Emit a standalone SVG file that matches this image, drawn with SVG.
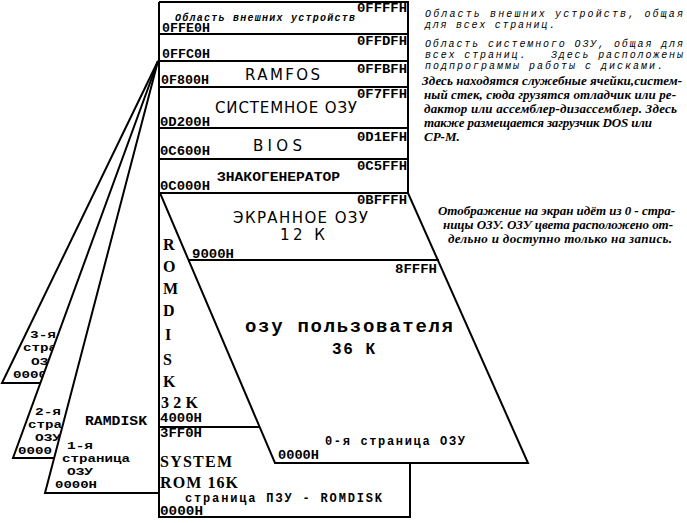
<svg xmlns="http://www.w3.org/2000/svg" width="687" height="523" viewBox="0 0 687 523">
<style>
.ln{fill:none;stroke:#000;stroke-width:2}
.wf{fill:#fff;stroke:none}
.a{font-family:"Liberation Mono",monospace;font-weight:bold;font-size:12px;fill:#000}
.s{font-family:"Liberation Mono",monospace;font-weight:bold;font-size:12px;fill:#000}
.p{font-family:"Liberation Mono",monospace;font-weight:bold;font-size:11px;fill:#000}
.t{font-family:"DejaVu Sans",sans-serif;font-size:15px;fill:#000}
.m{font-family:"Liberation Mono",monospace;font-weight:bold;font-size:16px;fill:#000}
.b{font-family:"Liberation Serif",serif;font-weight:bold;font-size:16px;fill:#000}
.u{font-family:"Liberation Mono",monospace;font-weight:bold;font-size:19px;fill:#000}
.it{font-family:"Liberation Mono",monospace;font-style:italic;font-size:10px;fill:#000;white-space:pre}
.bi{font-family:"Liberation Serif",serif;font-style:italic;font-weight:bold;font-size:13px;fill:#000}
</style>
<rect width="687" height="523" fill="#fff"/>

<g id="page3">
<polygon class="wf" points="158,61 2,383 158,383"/>
<path class="ln" d="M158,61 L2,383 L42,383"/>
<text class="p" x="30" y="338" textLength="26" lengthAdjust="spacingAndGlyphs">3-я</text>
<text class="p" x="23" y="351" textLength="34" lengthAdjust="spacingAndGlyphs">стра</text>
<text class="p" x="31" y="365" textLength="26" lengthAdjust="spacingAndGlyphs">ОЗУ</text>
<text class="p" x="13" y="378" textLength="34" lengthAdjust="spacingAndGlyphs">0000</text>
</g>

<g id="page2">
<polygon class="wf" points="158,61 13,458 158,458"/>
<path class="ln" d="M158,61 L13,458 L54,458"/>
<text class="p" x="35" y="415" textLength="26" lengthAdjust="spacingAndGlyphs">2-я</text>
<text class="p" x="28" y="428" textLength="34" lengthAdjust="spacingAndGlyphs">стра</text>
<text class="p" x="35" y="441" textLength="26" lengthAdjust="spacingAndGlyphs">ОЗУ</text>
<text class="p" x="18" y="454" textLength="34" lengthAdjust="spacingAndGlyphs">0000</text>
</g>

<g id="page1">
<polygon class="wf" points="158,61 45,493 158,493"/>
<path class="ln" d="M158,61 L45,493 L158,493"/>
<text class="s" x="85" y="425" textLength="62" lengthAdjust="spacingAndGlyphs">RAMDISK</text>
<text class="p" x="67" y="449" textLength="26" lengthAdjust="spacingAndGlyphs">1-я</text>
<text class="p" x="62" y="462" textLength="68" lengthAdjust="spacingAndGlyphs">страница</text>
<text class="p" x="67" y="475" textLength="26" lengthAdjust="spacingAndGlyphs">ОЗУ</text>
<text class="p" x="55" y="488" textLength="42" lengthAdjust="spacingAndGlyphs">0000H</text>
</g>

<g id="column">
<rect class="wf" x="159" y="2" width="249" height="515"/>
<path class="ln" d="M159,2 H408 V193 M159,2 V517 H410 V463 M159,34 H408 M159,61 H408 M159,87 H408 M159,128 H408 M159,159 H408 M159,193 H408"/>
</g>

<g id="ext-devices">
<text class="a" x="357" y="12" textLength="50" lengthAdjust="spacingAndGlyphs">0FFFFH</text>
<text class="it" x="175" y="21" textLength="180" font-weight="bold">Область внешних устройств</text>
<text class="a" x="162" y="32" textLength="48" lengthAdjust="spacingAndGlyphs">0FFE0H</text>
</g>

<g id="sys-ram-top">
<text class="a" x="357" y="45" textLength="50" lengthAdjust="spacingAndGlyphs">0FFDFH</text>
<text class="a" x="162" y="58" textLength="48" lengthAdjust="spacingAndGlyphs">0FFC0H</text>
</g>

<g id="ramfos">
<text class="a" x="357" y="73" textLength="50" lengthAdjust="spacingAndGlyphs">0FFBFH</text>
<text class="t" x="245" y="80" textLength="75">RAMFOS</text>
<text class="a" x="161" y="84" textLength="48" lengthAdjust="spacingAndGlyphs">0F800H</text>
</g>

<g id="system-ram">
<text class="a" x="357" y="98" textLength="50" lengthAdjust="spacingAndGlyphs">0F7FFH</text>
<text class="t" x="215" y="113" textLength="142">СИСТЕМНОЕ ОЗУ</text>
<text class="a" x="160" y="126" textLength="50" lengthAdjust="spacingAndGlyphs">0D200H</text>
</g>

<g id="bios">
<text class="a" x="357" y="141" textLength="50" lengthAdjust="spacingAndGlyphs">0D1EFH</text>
<text class="t" x="253" y="151" textLength="49">BIOS</text>
<text class="a" x="160" y="155" textLength="50" lengthAdjust="spacingAndGlyphs">0C600H</text>
</g>

<g id="chargen">
<text class="a" x="357" y="170" textLength="50" lengthAdjust="spacingAndGlyphs">0C5FFH</text>
<text class="s" x="217" y="181" textLength="123" lengthAdjust="spacingAndGlyphs">ЗНАКОГЕНЕРАТОР</text>
<text class="a" x="160" y="190" textLength="50" lengthAdjust="spacingAndGlyphs">0C000H</text>
</g>

<g id="page0">
<polygon points="160,193 408,193 528,463 275,463" fill="#fff" stroke="#000" stroke-width="2"/>
<path class="ln" d="M188,260 H439"/>
<text class="a" x="357" y="204" textLength="50" lengthAdjust="spacingAndGlyphs">0BFFFH</text>
<text class="t" x="233" y="223" textLength="135">ЭКРАННОЕ ОЗУ</text>
<text class="t" x="280" y="240" textLength="45">12 К</text>
<text class="a" x="192" y="258" textLength="42" lengthAdjust="spacingAndGlyphs">9000H</text>
<text class="a" x="395" y="273" textLength="42" lengthAdjust="spacingAndGlyphs">8FFFH</text>
<text class="u" x="245" y="332" textLength="208">озу пользователя</text>
<text class="m" x="332" y="354" textLength="43">36 К</text>
<text class="s" x="325" y="445" textLength="140">0-я страница ОЗУ</text>
<text class="a" x="278" y="459" textLength="41" lengthAdjust="spacingAndGlyphs">0000H</text>
</g>

<g id="romdisk">
<text class="b" x="163" y="250">R</text>
<text class="b" x="163" y="272">O</text>
<text class="b" x="163" y="294">M</text>
<text class="b" x="163" y="316">D</text>
<text class="b" x="165" y="340">I</text>
<text class="b" x="163" y="365">S</text>
<text class="b" x="163" y="387">K</text>
<text class="b" x="161" y="408" textLength="37">32K</text>
<text class="a" x="160" y="422" textLength="42" lengthAdjust="spacingAndGlyphs">4000H</text>
</g>

<g id="system-rom">
<path class="ln" d="M159,427 H260"/>
<text class="a" x="160" y="437" textLength="42" lengthAdjust="spacingAndGlyphs">3FF0H</text>
<text class="b" x="160" y="467" textLength="72">SYSTEM</text>
<text class="b" x="160" y="488" textLength="78">ROM 16K</text>
<text class="s" x="185" y="502" textLength="197">страница ПЗУ - ROMDISK</text>
<text class="a" x="160" y="515" textLength="43" lengthAdjust="spacingAndGlyphs">0000H</text>
</g>

<g id="notes">
<text class="it" x="425" y="17" textLength="258">Область внешних устройств, общая</text>
<text class="it" x="425" y="28" textLength="130">для всех страниц.</text>
<text class="it" x="425" y="47" textLength="258">Область системного ОЗУ, общая для</text>
<text class="it" x="425" y="58" textLength="258">всех страниц.   Здесь расположены</text>
<text class="it" x="425" y="69" textLength="238">подпрограммы работы с дисками.</text>
<text class="bi" x="422" y="85" textLength="260">Здесь находятся служебные ячейки,систем-</text>
<text class="bi" x="424" y="99" textLength="252">ный стек, сюда грузятся отладчик или ре-</text>
<text class="bi" x="424" y="113" textLength="253">дактор или ассемблер-дизассемблер. Здесь</text>
<text class="bi" x="424" y="127" textLength="228">также размещается загрузчик DOS или</text>
<text class="bi" x="424" y="141">CP-M.</text>
<text class="bi" x="438" y="215" textLength="237">Отображение на экран идёт из 0 - стра-</text>
<text class="bi" x="443" y="229" textLength="230">ницы ОЗУ. ОЗУ цвета расположено от-</text>
<text class="bi" x="448" y="243" textLength="224">дельно и доступно только на запись.</text>
</g>
</svg>
